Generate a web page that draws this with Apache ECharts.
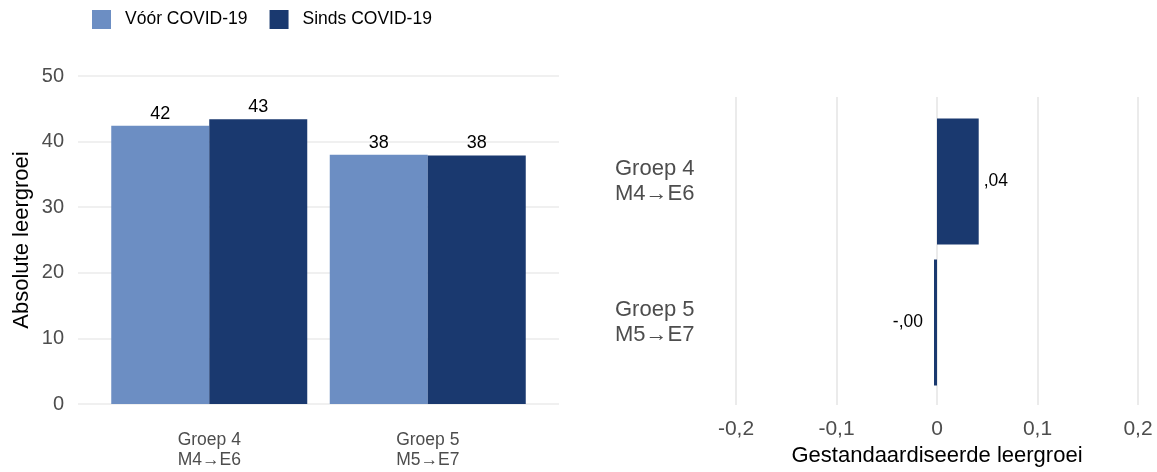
<!DOCTYPE html>
<html>
<head>
<meta charset="utf-8">
<script src="https://cdn.jsdelivr.net/npm/echarts@6/dist/echarts.min.js"></script>
<style>
html, body { margin: 0; padding: 0; background: #fff; }
#main { width: 1157px; height: 472px; }
</style>
</head>
<body>
<div id="main"></div>
<script>
// data
var groepen = ['Groep 4\nM4→E6', 'Groep 5\nM5→E7']
var voor = [42.4, 38.0]
var sinds = [43.4, 37.9]
var gestandaardiseerd = [0.0415, -0.003]
var leftTicks = [0, 50, 10]
var rightTicks = [-0.2, 0.2, 0.1]

var lichtBlauw = '#6C8EC3'
var donkerBlauw = '#1A396F'
var gridKleur = '#EBEBEB'
var font = 'Liberation Sans, Arial, sans-serif'

function kommaGetal(v) {
  if (Math.abs(v) < 1e-9) return '0'
  return v.toFixed(1).replace('.', ',')
}
function kortGetal(v) {
  var s = Math.abs(v).toFixed(2).replace('0.', ',')
  return (v < 0 ? '-' : '') + s
}

var myChart = echarts.init(document.getElementById('main'))

var option = {
  backgroundColor: '#fff',
  textStyle: { fontFamily: font },
  animation: false,
  legend: {
    left: 87,
    top: 5,
    icon: 'rect',
    itemWidth: 19,
    itemHeight: 19,
    itemGap: 22,
    textStyle: { fontSize: 17.5, color: '#000', padding: [0, 0, 0, 9], fontFamily: font },
    data: ['Vóór COVID-19', 'Sinds COVID-19']
  },
  grid: [
    { left: 78, right: 598, top: 76, bottom: 68 },
    { left: 100, right: 620, top: 76, bottom: 68 },
    { left: 736, right: 19, top: 97, bottom: 65 },
    { left: 736, right: 19, top: 111, bottom: 79 }
  ],
  xAxis: [
    { gridIndex: 0, type: 'value', show: false, min: 0, max: 1 },
    {
      gridIndex: 1,
      type: 'category',
      data: groepen,
      axisLine: { show: false },
      axisTick: { show: false },
      axisLabel: { color: '#4D4D4D', fontSize: 17.5, lineHeight: 20, margin: 26, fontFamily: font }
    },
    {
      gridIndex: 2,
      type: 'value',
      min: rightTicks[0],
      max: rightTicks[1],
      interval: rightTicks[2],
      axisLine: { show: false },
      axisTick: { show: false },
      splitLine: { show: true, lineStyle: { color: gridKleur, width: 2 } },
      axisLabel: { color: '#4D4D4D', fontSize: 21, margin: 14, formatter: kommaGetal, fontFamily: font },
      name: 'Gestandaardiseerde leergroei',
      nameLocation: 'middle',
      nameGap: 40,
      nameTextStyle: { color: '#000', fontSize: 22, fontFamily: font }
    },
    { gridIndex: 3, type: 'value', show: false, min: rightTicks[0], max: rightTicks[1] }
  ],
  yAxis: [
    {
      gridIndex: 0,
      type: 'value',
      min: leftTicks[0],
      max: leftTicks[1],
      interval: leftTicks[2],
      axisLine: { show: false },
      axisTick: { show: false },
      splitLine: { show: true, lineStyle: { color: gridKleur, width: 1.5 } },
      axisLabel: { color: '#4D4D4D', fontSize: 20, margin: 14, fontFamily: font },
      name: 'Absolute leergroei',
      nameLocation: 'middle',
      nameGap: 45,
      nameRotate: 90,
      nameTextStyle: { color: '#000', fontSize: 22, fontFamily: font }
    },
    { gridIndex: 1, type: 'value', show: false, min: leftTicks[0], max: leftTicks[1] },
    { gridIndex: 2, type: 'value', show: false, min: 0, max: 1 },
    {
      gridIndex: 3,
      type: 'category',
      inverse: true,
      data: groepen,
      axisLine: { show: false },
      axisTick: { show: false },
      axisLabel: { color: '#4D4D4D', fontSize: 22, lineHeight: 25, margin: 121, align: 'left', fontFamily: font }
    }
  ],
  series: [
    {
      name: 'Vóór COVID-19',
      type: 'bar',
      xAxisIndex: 1,
      yAxisIndex: 1,
      data: voor,
      barWidth: 98,
      barGap: '0%',
      itemStyle: { color: lichtBlauw },
      label: { show: true, position: 'top', distance: 3, color: '#000', fontSize: 18, fontFamily: font,
        formatter: function (p) { return Math.round(p.value) } }
    },
    {
      name: 'Sinds COVID-19',
      type: 'bar',
      xAxisIndex: 1,
      yAxisIndex: 1,
      data: sinds,
      barWidth: 98,
      barGap: '0%',
      itemStyle: { color: donkerBlauw },
      label: { show: true, position: 'top', distance: 3, color: '#000', fontSize: 18, fontFamily: font,
        formatter: function (p) { return Math.round(p.value) } }
    },
    {
      name: 'gestandaardiseerd',
      type: 'bar',
      xAxisIndex: 3,
      yAxisIndex: 3,
      barWidth: 126,
      itemStyle: { color: donkerBlauw },
      data: gestandaardiseerd.map(function (v) {
        return {
          value: v,
          label: { position: v >= 0 ? 'right' : 'left', distance: v >= 0 ? 5 : 11 }
        }
      }),
      label: { show: true, color: '#000', fontSize: 17.5, fontFamily: font,
        formatter: function (p) { return kortGetal(p.value) } }
    }
  ]
}

myChart.setOption(option)
</script>
</body>
</html>
